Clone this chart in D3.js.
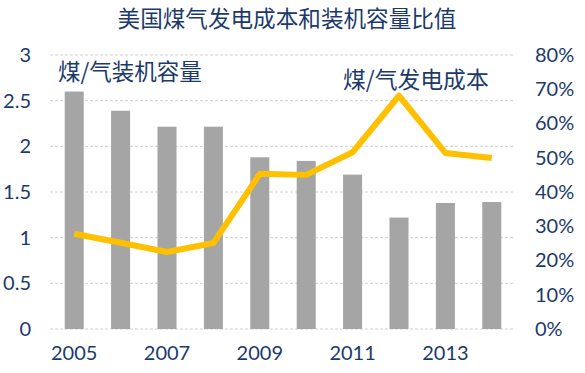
<!DOCTYPE html>
<html>
<head>
<meta charset="utf-8">
<script src="https://cdn.jsdelivr.net/npm/d3@7"></script>
<style>
  body { margin: 0; background: #fff; }
  text { font-family: Lato, "Noto Sans CJK SC", sans-serif; fill: #1b3a6b; }
</style>
</head>
<body>
<div id="chart"></div>
<script>
// Data
var years = [2005, 2006, 2007, 2008, 2009, 2010, 2011, 2012, 2013, 2014];
var capacityRatio = [2.60, 2.39, 2.215, 2.215, 1.88, 1.84, 1.69, 1.22, 1.38, 1.39];
var costRatio = [0.278, 0.252, 0.225, 0.251, 0.453, 0.450, 0.516, 0.681, 0.514, 0.499];
var xTickYears = [2005, 2007, 2009, 2011, 2013];
var leftTicks = [0, 0.5, 1, 1.5, 2, 2.5, 3];
var rightTicks = [0, 0.1, 0.2, 0.3, 0.4, 0.5, 0.6, 0.7, 0.8];

var svgWidth = 585, svgHeight = 373;
var margin = { top: 55, right: 70, bottom: 44, left: 51 };
var width = svgWidth - margin.left - margin.right;
var height = svgHeight - margin.top - margin.bottom;

var svg = d3.select("#chart")
    .append("svg")
    .attr("width", svgWidth)
    .attr("height", svgHeight);

var chartGroup = svg.append("g")
    .attr("transform", `translate(${margin.left}, ${margin.top})`);

// Scales
var xScale = d3.scaleBand()
    .domain(years)
    .range([0, width])
    .paddingInner(0.59)
    .paddingOuter(0.295);

var yLeft = d3.scaleLinear().domain([0, 3]).range([height, 0]);
var yRight = d3.scaleLinear().domain([0, 0.8]).range([height, 0]);

// Gridlines
chartGroup.append("g")
    .selectAll("line")
    .data(leftTicks)
    .enter()
    .append("line")
    .attr("x1", -1)
    .attr("x2", width)
    .attr("y1", d => yLeft(d))
    .attr("y2", d => yLeft(d))
    .attr("stroke", "#d0d0d0")
    .attr("stroke-width", 1)
    .attr("stroke-dasharray", "3,2");

// Bars
chartGroup.selectAll("rect")
    .data(years)
    .enter()
    .append("rect")
    .attr("x", d => xScale(d))
    .attr("width", xScale.bandwidth())
    .attr("y", (d, i) => yLeft(capacityRatio[i]))
    .attr("height", (d, i) => height - yLeft(capacityRatio[i]))
    .attr("fill", "#a5a5a5");

// Line
var line = d3.line()
    .x((d, i) => xScale(years[i]) + xScale.bandwidth() / 2)
    .y(d => yRight(d));

chartGroup.append("path")
    .datum(costRatio)
    .attr("d", line)
    .attr("fill", "none")
    .attr("stroke", "#ffc000")
    .attr("stroke-width", 6)
    .attr("stroke-linejoin", "round");

// Left axis
var leftAxis = d3.axisLeft(yLeft).tickValues(leftTicks).tickSize(0).tickPadding(20).tickFormat(d3.format(""));
var gLeft = chartGroup.append("g").call(leftAxis);
gLeft.select(".domain").remove();
gLeft.selectAll("text").style("font-size", "20px").attr("fill", "#1b3a6b");

// Right axis
var rightAxis = d3.axisRight(yRight).tickValues(rightTicks).tickSize(0).tickPadding(20).tickFormat(d3.format(".0%"));
var gRight = chartGroup.append("g")
    .attr("transform", `translate(${width}, 0)`)
    .call(rightAxis);
gRight.select(".domain").remove();
gRight.selectAll("text").style("font-size", "20px").attr("fill", "#1b3a6b");

// Bottom axis
var bottomAxis = d3.axisBottom(xScale).tickValues(xTickYears).tickSize(0).tickPadding(17);
var gBottom = chartGroup.append("g")
    .attr("transform", `translate(0, ${height})`)
    .call(bottomAxis);
gBottom.select(".domain").remove();
gBottom.selectAll("text").style("font-size", "20px").attr("fill", "#1b3a6b");

// Title
svg.append("text")
    .attr("x", 287)
    .attr("y", 26.5)
    .attr("text-anchor", "middle")
    .style("font-size", "22.6px")
    .style("font-family", "'Noto Sans CJK SC', sans-serif")
    .text("美国煤气发电成本和装机容量比值");

// Series labels
svg.append("text")
    .attr("x", 58)
    .attr("y", 80)
    .style("font-size", "22.5px")
    .style("font-family", "'Noto Sans CJK SC', sans-serif")
    .text("煤/气装机容量");

svg.append("text")
    .attr("x", 343)
    .attr("y", 88)
    .style("font-size", "22.8px")
    .style("font-family", "'Noto Sans CJK SC', sans-serif")
    .text("煤/气发电成本");
</script>
</body>
</html>
